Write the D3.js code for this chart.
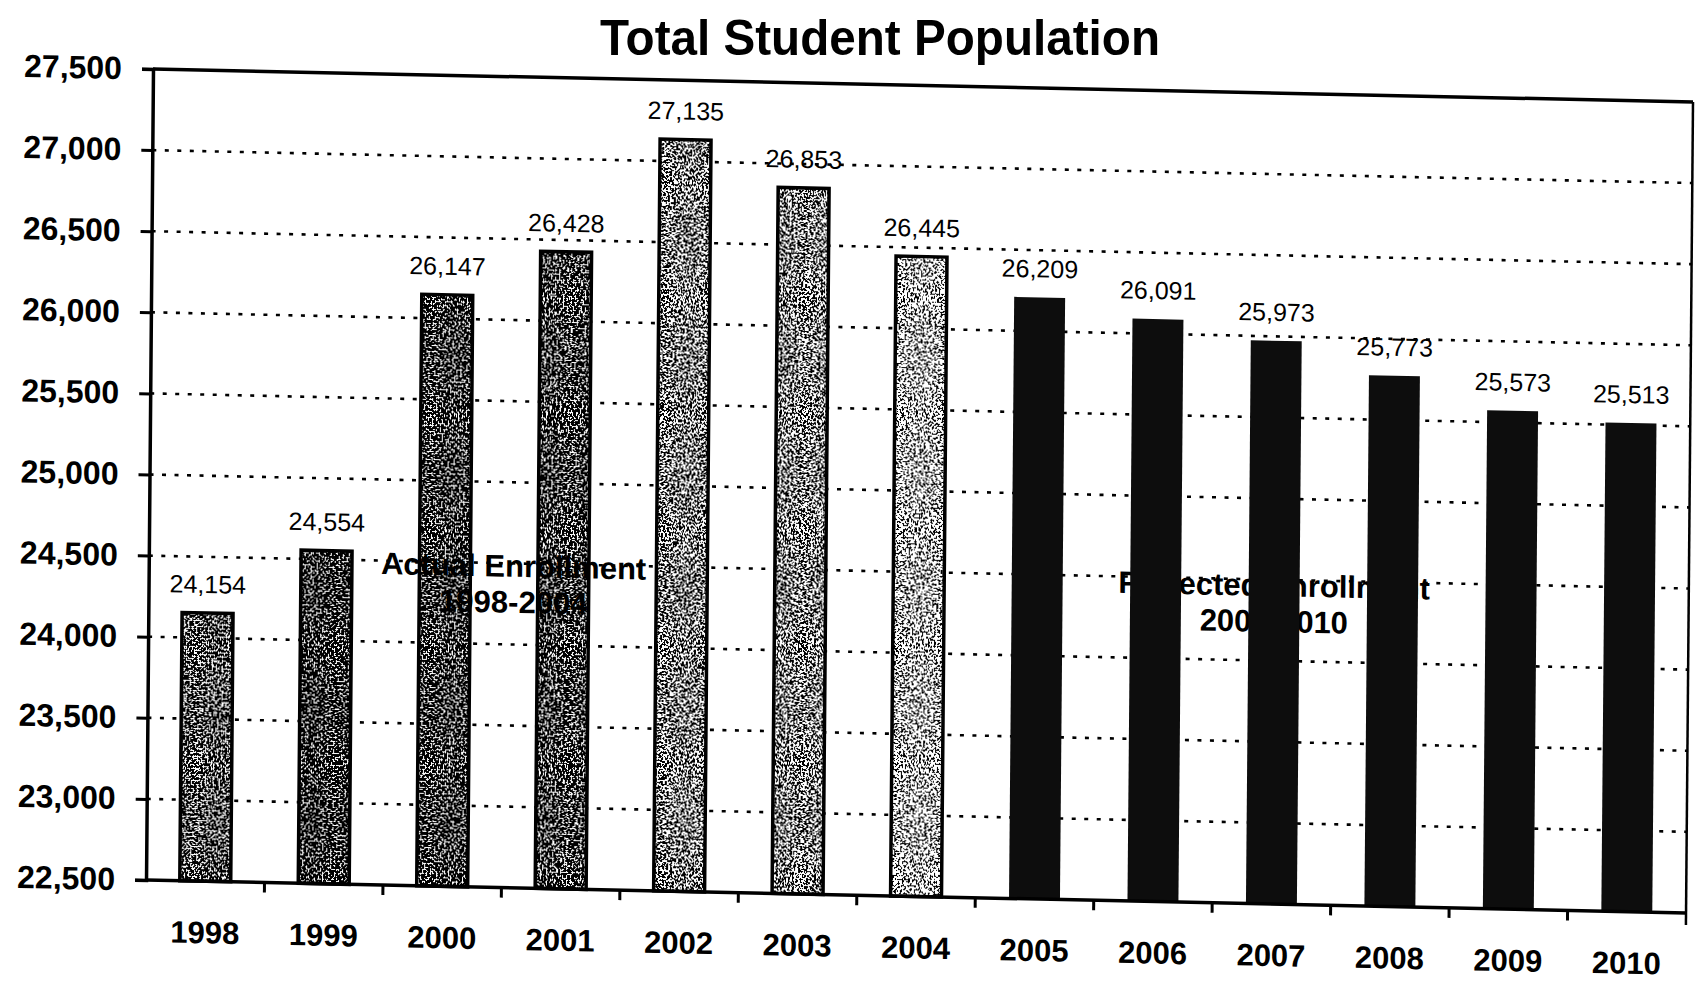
<!DOCTYPE html>
<html>
<head>
<meta charset="utf-8">
<script src="https://cdn.jsdelivr.net/npm/d3@7"></script>
<style>
  html, body { margin: 0; padding: 0; background: #fff; }
  svg { display: block; }
  text { font-family: Arial, "Liberation Sans", Helvetica, sans-serif; fill: #000; }
</style>
</head>
<body>
<svg id="chart" width="1696" height="988"></svg>
<script>
// Enrollment by school year: 1998-2004 actual counts, 2005-2010 projections
const years = ["1998", "1999", "2000", "2001", "2002", "2003", "2004",
               "2005", "2006", "2007", "2008", "2009", "2010"];
const enrollment = [24154, 24554, 26147, 26428, 27135, 26853, 26445,
                    26209, 26091, 25973, 25773, 25573, 25513];
const phase = ["actual", "actual", "actual", "actual", "actual", "actual", "actual",
               "projected", "projected", "projected", "projected", "projected", "projected"];
const yTicks = [22500, 23000, 23500, 24000, 24500, 25000, 25500, 26000, 26500, 27000, 27500];
const titleText = "Total Student Population";
const noteActual = ["Actual Enrollment", "1998-2004"];
const noteProjected = ["Projected Enrollment", "2005-2010"];

// Stipple density (share of dark grain) for each actual-enrollment bar
const grainDensity = [0.54, 0.68, 0.62, 0.62, 0.50, 0.48, 0.36];

const W = 1540, H = 811;
const svg = d3.select("#chart");
const defs = svg.append("defs");

// Grain filters: thresholded noise clipped to the bar shape
grainDensity.forEach((dens, i) => {
  const f = defs.append("filter")
    .attr("id", "grain" + i)
    .attr("x", 0).attr("y", 0).attr("width", 1).attr("height", 1)
    .attr("color-interpolation-filters", "sRGB");
  f.append("feTurbulence")
    .attr("type", "fractalNoise").attr("baseFrequency", 0.5)
    .attr("numOctaves", 2).attr("seed", 11 + i * 7).attr("result", "noise");
  f.append("feColorMatrix").attr("in", "noise").attr("type", "matrix")
    .attr("values", "1 0 0 0 0  1 0 0 0 0  1 0 0 0 0  0 0 0 0 1").attr("result", "gray");
  const t = 0.5 + (dens - 0.5) * 0.28;
  const ct = f.append("feComponentTransfer").attr("in", "gray").attr("result", "stretched");
  ["R", "G", "B"].forEach(c => ct.append("feFunc" + c)
    .attr("type", "linear").attr("slope", 6).attr("intercept", 0.5 - 6 * t));
  const ct2 = f.append("feComponentTransfer").attr("in", "stretched").attr("result", "bin");
  ["R", "G", "B"].forEach(c => ct2.append("feFunc" + c)
    .attr("type", "discrete").attr("tableValues", "0 1"));
  f.append("feComposite").attr("in", "bin").attr("in2", "SourceGraphic").attr("operator", "in");
});

// Title
svg.append("text")
  .attr("x", 880).attr("y", 55)
  .attr("text-anchor", "middle")
  .attr("font-size", 50).attr("font-weight", "bold")
  .attr("textLength", 560).attr("lengthAdjust", "spacingAndGlyphs")
  .text(titleText);

// Plot area, slightly skewed like the printed sheet
const g = svg.append("g")
  .attr("transform", "matrix(1 0.0214 -0.0086 1 153 69)");

const y = d3.scaleLinear().domain([22500, 27500]).range([H, 0]);
const x = d3.scaleBand().domain(years).range([0, W])
  .paddingInner(0.57).paddingOuter(0.285);

// Dotted gridlines
g.append("g").selectAll("line")
  .data(yTicks.filter(t => t > 22500 && t < 27500))
  .join("line")
  .attr("x1", 0).attr("x2", W)
  .attr("y1", d => y(d)).attr("y2", d => y(d))
  .attr("stroke", "#000").attr("stroke-width", 2.6)
  .attr("stroke-dasharray", "4 8.5");

// Frame: top and right edges
g.append("line").attr("x1", 0).attr("x2", W).attr("y1", 0).attr("y2", 0)
  .attr("stroke", "#000").attr("stroke-width", 3.5);
g.append("line").attr("x1", W).attr("x2", W).attr("y1", 0).attr("y2", H + 12)
  .attr("stroke", "#000").attr("stroke-width", 2.5);

// Period annotations
function note(lines, cx, baseY) {
  const t = g.append("text").attr("text-anchor", "middle")
    .attr("font-size", 31).attr("font-weight", "bold");
  lines.forEach((s, k) => t.append("tspan").attr("x", cx).attr("y", baseY + k * 36).text(s));
}
// The projected-period note sits behind the solid bars
note(noteProjected, x.step() * 9.5, 503);

// Bars
const bars = years.map((yr, i) => ({ yr, v: enrollment[i], kind: phase[i], i }));
const barG = g.append("g");
barG.selectAll("rect.fill")
  .data(bars)
  .join("rect")
  .attr("class", "fill")
  .attr("x", d => x(d.yr))
  .attr("y", d => y(d.v))
  .attr("width", x.bandwidth())
  .attr("height", d => y(22500) - y(d.v))
  .attr("fill", d => d.kind === "actual" ? "#fff" : "#0d0d0d")
  .attr("filter", d => d.kind === "actual" ? `url(#grain${d.i})` : null);
barG.selectAll("rect.edge")
  .data(bars.filter(d => d.kind === "actual"))
  .join("rect")
  .attr("class", "edge")
  .attr("x", d => x(d.yr))
  .attr("y", d => y(d.v))
  .attr("width", x.bandwidth())
  .attr("height", d => y(22500) - y(d.v))
  .attr("fill", "none").attr("stroke", "#000").attr("stroke-width", 3.5);

// Value labels
g.append("g").selectAll("text")
  .data(bars)
  .join("text")
  .attr("x", d => x(d.yr) + x.bandwidth() / 2)
  .attr("y", d => y(d.v) - 20)
  .attr("text-anchor", "middle")
  .attr("font-size", 25)
  .text(d => d3.format(",")(d.v));

// The actual-period note is printed over the stippled bars
note(noteActual, x.step() * 3.08, 500);

// Y axis
const yAxis = g.append("g")
  .call(d3.axisLeft(y).tickValues(yTicks).tickSize(11).tickPadding(20)
    .tickFormat(d3.format(",")));
yAxis.select(".domain").attr("stroke-width", 3.5);
yAxis.selectAll(".tick line").attr("stroke-width", 3);
yAxis.selectAll(".tick text")
  .attr("font-size", 32).attr("font-weight", "bold")
  .attr("font-family", "Arial, 'Liberation Sans', sans-serif").attr("fill", "#000");

// X axis: baseline, category separators and year labels
const edges = d3.range(1, years.length).map(k => k * x.step());
const xAxis = g.append("g").attr("transform", `translate(0,${H})`);
xAxis.append("line").attr("x1", 0).attr("x2", W).attr("y1", 0).attr("y2", 0)
  .attr("stroke", "#000").attr("stroke-width", 3.5);
xAxis.selectAll("line.sep")
  .data(edges)
  .join("line")
  .attr("class", "sep")
  .attr("x1", d => d).attr("x2", d => d).attr("y1", 0).attr("y2", 10)
  .attr("stroke", "#000").attr("stroke-width", 3);
xAxis.selectAll("text")
  .data(years)
  .join("text")
  .attr("x", d => x(d) + x.bandwidth() / 2)
  .attr("y", 62)
  .attr("text-anchor", "middle")
  .attr("font-size", 31).attr("font-weight", "bold")
  .text(d => d);
</script>
</body>
</html>
